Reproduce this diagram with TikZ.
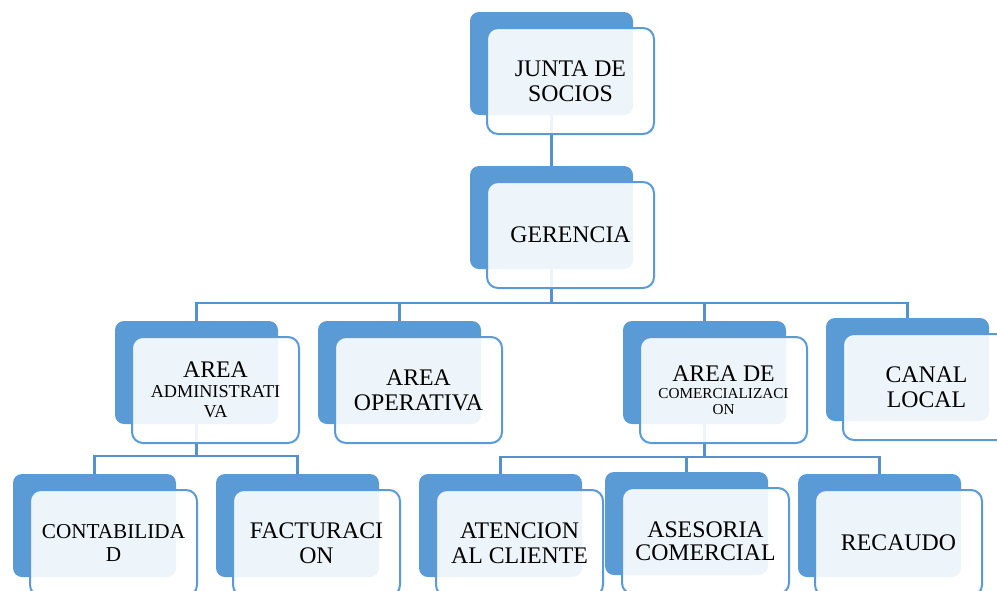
\documentclass[tikz,border=0pt]{standalone}
\usepackage{fontspec}
\setmainfont{Liberation Serif}
\usetikzlibrary{calc}
\definecolor{boxblue}{HTML}{5B9BD5}
\definecolor{lineblue}{HTML}{5591CF}
\begin{document}
\begin{tikzpicture}[x=1pt,y=-1pt,
  backbox/.style={fill=boxblue, rounded corners=9pt, minimum width=163pt, minimum height=103pt, inner sep=0pt},
  frontbox/.style={draw=boxblue, line width=2pt, fill=white, fill opacity=0.9, text opacity=1, rounded corners=11pt, minimum width=167pt, minimum height=106pt, inner sep=0pt, align=center, font=\fontsize{23.8}{25}\selectfont},
  lowtext/.style={font=\fontsize{21.2}{25}\selectfont},
  conn/.style={draw=lineblue, line width=2.2pt}]
\useasboundingbox (0,0) rectangle (997,590);
\clip (0,0) rectangle (997,590);
% back boxes
\node[backbox] (juntab) at (551.5,63.5) {};
\node[backbox] (gerb) at (551.5,217.5) {};
\node[backbox] (adminb) at (196.5,372.5) {};
\node[backbox] (operb) at (399.5,372.5) {};
\node[backbox] (comb) at (704.5,372.5) {};
\node[backbox] (canalb) at (907.5,369.5) {};
\node[backbox] (contb) at (94.5,525.5) {};
\node[backbox] (factb) at (297.5,525.5) {};
\node[backbox] (atenb) at (500.5,525.5) {};
\node[backbox] (asesb) at (686.5,523.5) {};
\node[backbox] (recb) at (879.5,525.5) {};
% connectors
\coordinate (bus1) at (0,303);
\coordinate (bus2) at (0,456);
\coordinate (bus3) at (0,457);
\draw[conn] (juntab.south) -- (gerb.north);
\draw[conn] (gerb.south) -- (gerb.south |- bus1);
\draw[conn] (adminb.north) -- (adminb.north |- bus1) -- (canalb.north |- bus1) -- (canalb.north);
\draw[conn] (operb.north |- bus1) -- (operb.north);
\draw[conn] (comb.north |- bus1) -- (comb.north);
\draw[conn] (adminb.south) -- (adminb.south |- bus2);
\draw[conn] (contb.north) -- (contb.north |- bus2) -- (factb.north |- bus2) -- (factb.north);
\draw[conn] (comb.south) -- (comb.south |- bus3);
\draw[conn] (atenb.north) -- (atenb.north |- bus3) -- (recb.north |- bus3) -- (recb.north);
\draw[conn] (asesb.north |- bus3) -- (asesb.north);
% front boxes
\node[frontbox] (junta) at ($(juntab.center)+(19,17.5)$) {JUNTA DE\\SOCIOS};
\node[frontbox] (ger) at ($(gerb.center)+(19,17.5)$) {GERENCIA};
\node[frontbox] (admin) at ($(adminb.center)+(19,17.5)$) {AREA\\[-5pt]{\fontsize{18.2}{20}\selectfont ADMINISTRATI}\\[-5pt]{\fontsize{18.2}{20}\selectfont VA}};
\node[frontbox] (oper) at ($(operb.center)+(19,17.5)$) {AREA\\OPERATIVA};
\node[frontbox] (com) at ($(comb.center)+(19,17.5)$) {AREA DE\\[-8pt]{\fontsize{15.2}{17}\selectfont COMERCIALIZACI}\\[-9pt]{\fontsize{15.2}{17}\selectfont ON}};
\node[frontbox] (canal) at ($(canalb.center)+(19,17.5)$) {CANAL\\LOCAL};
\node[frontbox,lowtext] (cont) at ($(contb.center)+(19,17.5)$) {CONTABILIDA\\[-2pt]D};
\node[frontbox] (fact) at ($(factb.center)+(19,17.5)$) {FACTURACI\\ON};
\node[frontbox] (aten) at ($(atenb.center)+(19,17.5)$) {ATENCION\\AL CLIENTE};
\node[frontbox] (ases) at ($(asesb.center)+(19,17.5)$) {ASESORIA\\[-2pt]COMERCIAL};
\node[frontbox] (rec) at ($(recb.center)+(19,17.5)$) {RECAUDO};
\end{tikzpicture}
\end{document}
